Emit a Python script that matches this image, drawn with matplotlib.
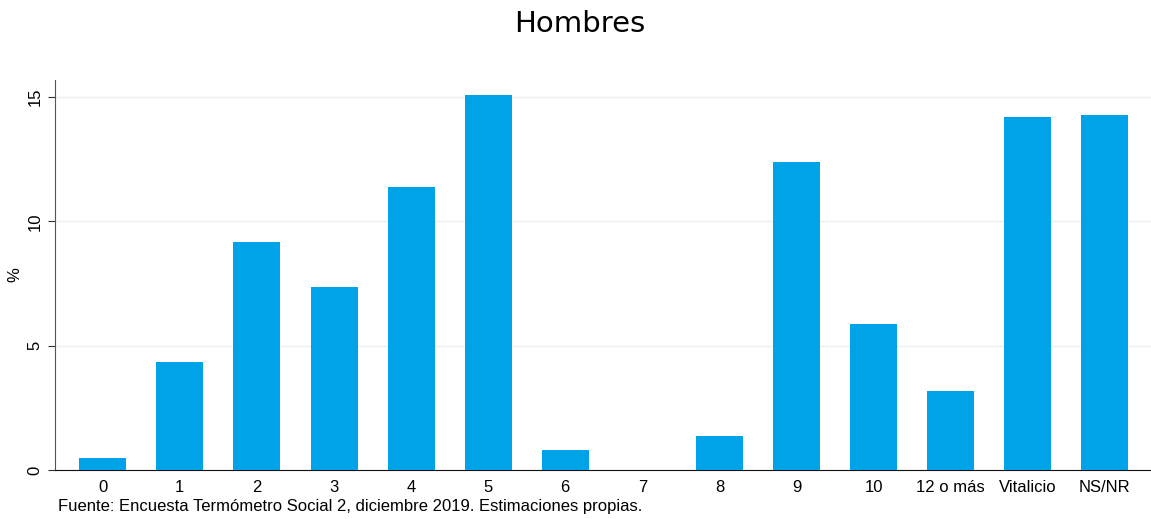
import matplotlib
matplotlib.use("Agg")
import matplotlib.pyplot as plt
import numpy as np

categories = ['0', '1', '2', '3', '4', '5', '6', '7', '8', '9', '10', '12 o más', 'Vitalicio', 'NS/NR']
values = [0.48, 4.35, 9.18, 7.37, 11.39, 15.06, 0.80, 0.0, 1.37, 12.38, 5.88, 3.18, 14.2, 14.28]
yticks = [0, 5, 10, 15]

bar_color = '#00A2E8'

fig = plt.figure(figsize=(11.51, 5.19), dpi=100)
ax = fig.add_axes([55 / 1151, 1 - 470 / 519, 1096 / 1151, 390 / 519])

x = np.arange(len(categories))
ax.bar(x, values, width=0.61, color=bar_color, zorder=3)

ax.set_xlim(-0.62, len(categories) - 0.4)
ax.set_ylim(0, 15.68)
ax.set_yticks(yticks)
ax.set_yticklabels([str(t) for t in yticks], rotation=90, va='center',
                   fontfamily='Liberation Sans', fontsize=12)
ax.set_xticks(x)
ax.set_xticklabels(categories, fontfamily='Liberation Sans', fontsize=12)
ax.tick_params(axis='x', length=0, pad=7)
ax.tick_params(axis='y', length=5, width=0.8, color='#333333', pad=4)

ax.grid(axis='y', color='#eaf0f2', linewidth=1, zorder=0)
for s in ['top', 'right']:
    ax.spines[s].set_visible(False)
ax.spines['left'].set_color('#555555')
ax.spines['bottom'].set_color('#111111')

ax.set_ylabel('%', fontfamily='Liberation Sans', fontsize=12, labelpad=4)

fig.text(580 / 1151, 1 - 24 / 519, 'Hombres', ha='center', va='center', fontsize=21,
         fontfamily='DejaVu Sans')
fig.text(58 / 1151, 1 - 507 / 519, 'Fuente: Encuesta Termómetro Social 2, diciembre 2019. Estimaciones propias.',
         ha='left', va='center', fontsize=12, fontfamily='Liberation Sans')

fig.savefig('out.png', dpi=100)
